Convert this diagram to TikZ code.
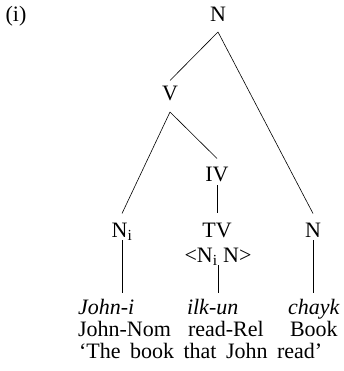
\documentclass[tikz,border=0pt]{standalone}
\usepackage{fontspec}
\setmainfont{Liberation Serif}
\begin{document}
\begin{tikzpicture}[x=1pt,y=-1pt,
  every node/.style={font=\fontsize{22}{26}\selectfont, inner sep=0pt, outer sep=0pt},
  cat/.style={anchor=base, text height=14.5pt, text depth=0pt},
  word/.style={anchor=base west, text height=14.5pt, text depth=0pt},
  branch/.style={line width=0.6pt}]
\useasboundingbox (0,0) rectangle (343,371);
\node[anchor=base] (ex) at (16,22) {(i)};
\node[cat] (root) at (218,22) {N};
\node[cat] (V) at (170,101) {V};
\node[cat] (IV) at (217,182) {IV};
\node[cat] (Ni) at (122,237) {N\textsubscript{i}};
\node[cat] (TV) at (217,237) {TV};
\node[cat] (feat) at (218,262) {<N\textsubscript{i} N>};
\node[cat] (Nr) at (313,237) {N};
\node[word] (w1) at (78,314) {\itshape John-i};
\node[word] (w2) at (187,314) {\itshape ilk-un};
\node[word] (w3) at (288,314) {\itshape chayk};
\node[word] (g1) at (78,336) {John-Nom};
\node[word] (g2) at (188,336) {read-Rel};
\node[word] (g3) at (290,336) {Book};
\node[word] (tr) at (79,358) {\spaceskip=9.5pt ‘The book that John read’};
\draw[branch] ([yshift=-10pt]root.south) -- ([yshift=6pt]V.north);
\draw[branch] ([yshift=-10pt]root.south) -- ([yshift=9pt]Nr.north);
\draw[branch] ([yshift=-11pt]V.south) -- ([yshift=9pt]IV.north);
\draw[branch] ([yshift=-11pt]V.south) -- ([yshift=9pt]Ni.north);
\draw[branch] ([yshift=-3pt]IV.south) -- ([yshift=10pt]TV.north);
\draw[branch] ([yshift=-3pt]Ni.south) -- ([yshift=6.5pt]Ni.south |- w1.north);
\draw[branch] ([yshift=-3pt]feat.south) -- ([yshift=6.5pt]feat.south |- w2.north);
\draw[branch] ([yshift=-3pt]Nr.south) -- ([yshift=6.5pt]Nr.south |- w3.north);
\end{tikzpicture}
\end{document}
